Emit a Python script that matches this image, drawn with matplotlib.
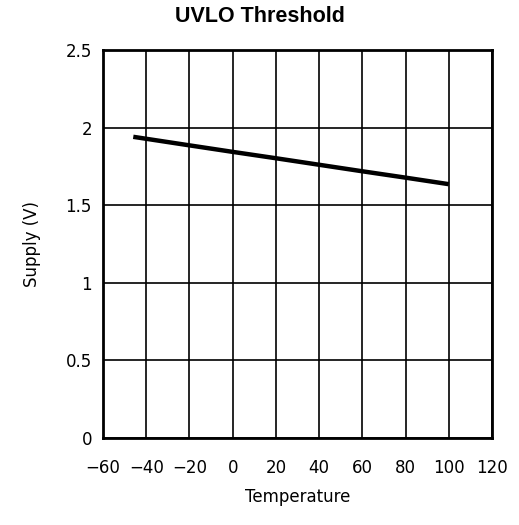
import matplotlib
matplotlib.use("Agg")
import matplotlib.pyplot as plt

temperature = [-46, -20, 0, 20, 40, 60, 80, 100]
supply = [1.94, 1.885, 1.843, 1.802, 1.760, 1.718, 1.677, 1.635]

x_ticks = [-60, -40, -20, 0, 20, 40, 60, 80, 100, 120]
y_ticks = [0, 0.5, 1, 1.5, 2, 2.5]
y_labels = ['0', '0.5', '1', '1.5', '2', '2.5']

fig = plt.figure(figsize=(5.19, 5.25), dpi=100)
ax = fig.add_axes([0.1985, 0.1657, 0.7495, 0.7393])

ax.plot(temperature, supply, color='black', linewidth=3.2, solid_capstyle='butt')

ax.set_xlim(-60, 120)
ax.set_ylim(0, 2.5)
ax.set_xticks(x_ticks)
ax.set_yticks(y_ticks)
ax.set_yticklabels(y_labels)
ax.tick_params(length=0, labelsize=12)
ax.tick_params(axis='x', pad=15)
ax.tick_params(axis='y', pad=8)
ax.grid(True, color='black', linewidth=1.2)
for sp in ax.spines.values():
    sp.set_linewidth(2)

ax.set_xlabel('Temperature', fontsize=12, labelpad=8)
ax.set_ylabel('Supply (V)', fontsize=12, labelpad=18)
fig.suptitle('UVLO Threshold', fontsize=15.5, fontweight='bold',
             family='Liberation Sans', y=0.988)

fig.savefig('out.png', dpi=100)
